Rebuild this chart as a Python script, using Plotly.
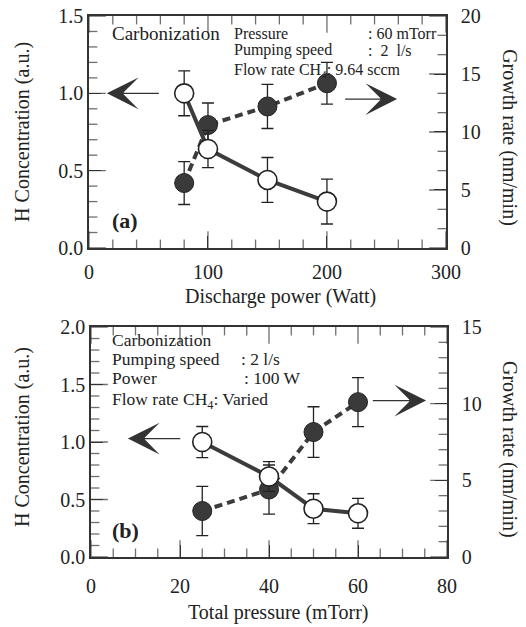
import numpy as np
import plotly.graph_objects as go

# ---- data (panel a: discharge power) ----
power = [80, 100, 150, 200]
h_conc_a = [1.00, 0.64, 0.44, 0.30]
h_err_a = [0.145, 0.12, 0.145, 0.145]
growth_a = [5.6, 10.6, 12.2, 14.2]
growth_err_a = [1.85, 1.9, 1.9, 1.8]

# ---- data (panel b: total pressure) ----
pressure = [25, 40, 50, 60]
h_conc_b = [1.00, 0.70, 0.42, 0.38]
h_err_b = [0.135, 0.13, 0.13, 0.13]
growth_b = [3.0, 4.4, 8.15, 10.1]
growth_err_b = [1.6, 1.6, 1.65, 1.6]

FONT = "Liberation Serif, Times New Roman, serif"
INK = "#222222"
LINE = "#3c3c3c"
AX = "#333333"

fig = go.Figure()

# ---- inside tick marks: line markers centred on the axis, clipped to the plot area ----
MAJ, MIN = 24, 12   # full marker length; half of it lies inside the plot

def vals(lo, hi, step):
    return [round(v, 6) for v in np.arange(lo, hi + step * 1e-3, step)]

def tick_trace(xs, ys, sizes, xa, ya, symbol):
    fig.add_trace(go.Scatter(
        x=xs, y=ys, xaxis=xa, yaxis=ya, mode="markers", cliponaxis=True,
        marker=dict(symbol=symbol, size=sizes, color=AX, line=dict(color=AX, width=1.3)),
        hoverinfo="skip", showlegend=False))

def x_ticks(xa, ya, lo, hi, major, minor, ymin, ymax):
    majors = vals(lo, hi, major)
    v = vals(lo, hi, minor)
    s = [MAJ if any(abs(a - m) < 1e-6 for m in majors) else MIN for a in v]
    tick_trace(v + v, [ymin] * len(v) + [ymax] * len(v), s + s, xa, ya, "line-ns")

def y_ticks(xa, ya, lo, hi, major, minor, xpos):
    majors = vals(lo, hi, major)
    v = vals(lo, hi, minor)
    s = [MAJ if any(abs(a - m) < 1e-6 for m in majors) else MIN for a in v]
    tick_trace([xpos] * len(v), v, s, xa, ya, "line-ew")

x_ticks("x", "y", 0, 300, 100, 20, 0, 20)
y_ticks("x", "y", 0, 20, 5, 5 / 3, 300)
x_ticks("x2", "y2", 0, 80, 20, 5, 0, 15)
y_ticks("x2", "y2", 0, 15, 5, 1, 80)

def add_panel(x, h, herr, g, gerr, xa, ya_growth, ya_h):
    fig.add_trace(go.Scatter(
        x=x, y=g, xaxis=xa, yaxis=ya_growth, mode="lines+markers",
        line=dict(color=LINE, width=4, dash="8px,5px"),
        marker=dict(size=19, color="#3a3a3a", line=dict(color=INK, width=1)),
        error_y=dict(type="data", array=gerr, color=INK, thickness=1.3, width=6),
        showlegend=False))
    fig.add_trace(go.Scatter(
        x=x, y=h, xaxis=xa, yaxis=ya_h, mode="lines+markers",
        line=dict(color=LINE, width=4),
        marker=dict(size=19, color="white", line=dict(color=INK, width=1.6)),
        error_y=dict(type="data", array=herr, color=INK, thickness=1.3, width=6),
        showlegend=False))

y_ticks("x", "y3", 0, 1.5, 0.5, 0.1, 0)
y_ticks("x2", "y4", 0, 2.0, 0.5, 0.1, 0)
add_panel(power, h_conc_a, h_err_a, growth_a, growth_err_a, "x", "y", "y3")
add_panel(pressure, h_conc_b, h_err_b, growth_b, growth_err_b, "x2", "y2", "y4")

tickfont = dict(family=FONT, size=20, color=INK)
axcommon = dict(showline=True, linewidth=1.5, linecolor=AX, ticks="inside",
                ticklen=12, tickwidth=1.3, tickcolor=AX, showgrid=False,
                zeroline=False, tickfont=tickfont, automargin=False,
                ticklabeloverflow="allow", mirror=False)

# the page body has an 8px margin; the figure is offset by it
fig.update_layout(
    width=518, height=619,
    margin=dict(l=81, r=79, t=8, b=70, autoexpand=False),
    paper_bgcolor="white", plot_bgcolor="white",
    font=dict(family=FONT, color=INK),
    xaxis=dict(domain=[0, 0.997], anchor="y", range=[0, 300], dtick=100,
               ticklabelstandoff=5, **axcommon),
    yaxis=dict(domain=[0.5712, 1], anchor="x", side="right", range=[0, 20], dtick=5,
               ticklabelstandoff=9, **axcommon),
    yaxis3=dict(overlaying="y", anchor="x", side="left", range=[0, 1.5], dtick=0.5,
                tickformat=".1f", **axcommon),
    xaxis2=dict(domain=[0.0056, 1], anchor="y2", range=[0, 80], dtick=20,
                ticklabelstandoff=10, **axcommon),
    yaxis2=dict(domain=[0, 0.4251], anchor="x2", side="right", range=[0, 15], dtick=5,
                ticklabelstandoff=9, **axcommon),
    yaxis4=dict(overlaying="y2", anchor="x2", side="left", range=[0, 2.0], dtick=0.5,
                tickformat=".1f", **axcommon),
)
# top frame lines
fig.update_xaxes(mirror=True)

titlefont = dict(family=FONT, size=20, color=INK)
ann = []

def title(t, x, y, angle):
    ann.append(dict(text=t, xref="paper", yref="paper", x=x, y=y, textangle=angle,
                    showarrow=False, font=titlefont, xanchor="center", yanchor="middle"))

title("Discharge power (Watt)", 0.536, 0.481, 0)
title("Total pressure (mTorr)", 0.528, -0.1017, 0)
title("H Concentration (a.u.)", -0.184, 0.786, -90)
title("H Concentration (a.u.)", -0.184, 0.222, -90)
title("Growth rate (nm/min)", 1.176, 0.776, 90)
title("Growth rate (nm/min)", 1.176, 0.1996, 90)

fa = dict(family=FONT, size=16, color=INK)
fb = dict(family=FONT, size=17.5, color=INK)

def txt(t, xr, yr, x, y, f):
    ann.append(dict(text=t, xref=xr, yref=yr, x=x, y=y, xanchor="left", yanchor="middle",
                    showarrow=False, font=f))

txt("Carbonization", "x domain", "y domain", 0.059, 0.925, dict(family=FONT, size=19, color=INK))
txt("Pressure", "x domain", "y domain", 0.40, 0.925, fa)
txt(": 60 mTorr", "x domain", "y domain", 0.777, 0.925, fa)
txt("Pumping speed", "x domain", "y domain", 0.40, 0.853, fa)
txt(":  2  l/s", "x domain", "y domain", 0.777, 0.853, fa)
txt("Flow rate CH<sub>4</sub>: 9.64 sccm", "x domain", "y domain", 0.40, 0.765, fa)
txt("<b>(a)</b>", "x domain", "y domain", 0.059, 0.12, dict(family=FONT, size=22, color=INK))

txt("Carbonization", "x2 domain", "y2 domain", 0.053, 0.943, fb)
txt("Pumping speed", "x2 domain", "y2 domain", 0.053, 0.861, fb)
txt(": 2 l/s", "x2 domain", "y2 domain", 0.417, 0.861, fb)
txt("Power", "x2 domain", "y2 domain", 0.053, 0.778, fb)
txt(": 100 W", "x2 domain", "y2 domain", 0.423, 0.778, fb)
txt("Flow rate CH<sub>4</sub>: Varied", "x2 domain", "y2 domain", 0.053, 0.68, fb)
txt("<b>(b)</b>", "x2 domain", "y2 domain", 0.053, 0.117, dict(family=FONT, size=22, color=INK))

def arrow(xr, yr, x_head, x_tail, y):
    ann.append(dict(text="", xref=xr, yref=yr, axref=xr, ayref=yr, x=x_head, y=y,
                    ax=x_tail, ay=y, showarrow=True, arrowhead=3, arrowsize=4.4,
                    arrowwidth=1.2, arrowcolor="#333"))

arrow("x", "y3", 15, 60, 1.0)
arrow("x", "y", 259, 214, 12.84)
arrow("x2", "y4", 8.3, 20.4, 1.03)
arrow("x2", "y2", 75.3, 63, 10.2)

fig.update_layout(annotations=ann)
fig.write_html("out.html")
